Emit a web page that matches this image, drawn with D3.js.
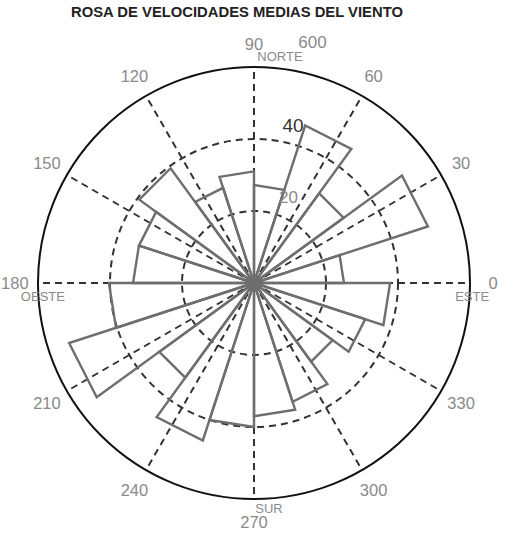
<!DOCTYPE html>
<html>
<head>
<meta charset="utf-8">
<script src="https://cdn.jsdelivr.net/npm/d3@7"></script>
<style>
body { margin: 0; background: #fff; }
svg { display: block; font-family: "Liberation Sans", Arial, sans-serif; }
</style>
</head>
<body>
<div id="container"></div>
<script>
// 20 bins of 18 degrees, counter-clockwise from east (MATLAB rose)
const binSpeeds = [25, 50.8, 30.8, 46, 27.2, 31, 27.8, 39.4, 33.6, 33.6,
                   40.3, 54, 32.5, 46, 40, 37, 34.7, 27, 32.5, 37.8];
const ringValues = [20, 40];
const ringLabels = ['20', '40', '600'];
const angleTicks = [0, 30, 60, 90, 120, 150, 180, 210, 240, 270, 300, 330];
const compassNames = ['ESTE', 'NORTE', 'OESTE', 'SUR'];
const compassAngles = [0, 90, 180, 270];
const maxSpeed = 60;
const title = 'ROSA DE VELOCIDADES MEDIAS DEL VIENTO';

const width = 524, height = 543;
const cx = 254, cy = 283, R = 216;

const svg = d3.select('#container').append('svg')
    .attr('width', width).attr('height', height);

const rScale = d3.scaleLinear().domain([0, maxSpeed]).range([0, R]);
const rad = d => d * Math.PI / 180;
// polar (math angle in degrees) -> screen
const px = (r, a) => cx + r * Math.cos(rad(a));
const py = (r, a) => cy - r * Math.sin(rad(a));

const g = svg.append('g').attr('transform', `translate(${cx},${cy})`);

// spokes
g.selectAll('line.spoke').data(angleTicks).join('line')
    .attr('class', 'spoke')
    .attr('x1', 0).attr('y1', 0)
    .attr('x2', d => rScale(maxSpeed) * Math.cos(rad(d)))
    .attr('y2', d => -rScale(maxSpeed) * Math.sin(rad(d)))
    .attr('stroke', '#333').attr('stroke-width', 2)
    .attr('stroke-dasharray', '7,5');

// dashed rings
g.selectAll('circle.ring').data(ringValues).join('circle')
    .attr('class', 'ring')
    .attr('r', d => rScale(d))
    .attr('fill', 'none')
    .attr('stroke', '#333').attr('stroke-width', 2)
    .attr('stroke-dasharray', '7,5');

// outer circle
g.append('circle')
    .attr('r', rScale(maxSpeed))
    .attr('fill', 'none')
    .attr('stroke', '#111').attr('stroke-width', 2);

// rose wedges
const binWidth = 360 / binSpeeds.length;
const radial = d3.lineRadial()
    .angle(d => rad(90 - d[0]))
    .radius(d => rScale(d[1]));

g.selectAll('path.bin').data(binSpeeds).join('path')
    .attr('class', 'bin')
    .attr('d', (v, i) => radial([[0, 0], [i * binWidth, v], [(i + 1) * binWidth, v], [0, 0]]))
    .attr('fill', 'none')
    .attr('stroke', '#6e6e6e').attr('stroke-width', 2.4)
    .attr('stroke-linejoin', 'miter');

// angle labels
const labelR = rScale(maxSpeed) * 1.107;
svg.selectAll('text.ang').data(angleTicks).join('text')
    .attr('class', 'ang')
    .attr('x', d => px(labelR, d))
    .attr('y', d => py(labelR, d))
    .attr('text-anchor', 'middle')
    .attr('dominant-baseline', 'central')
    .attr('font-size', 16.5)
    .attr('fill', '#8a8a8a')
    .text(d => d);

// compass names, tucked next to their angle labels
const compassOffset = { 0: [-21, 13], 90: [26, 13], 180: [28, 13], 270: [15, -14] };
svg.selectAll('text.compass').data(compassNames).join('text')
    .attr('class', 'compass')
    .attr('x', (d, i) => px(labelR, compassAngles[i]) + compassOffset[compassAngles[i]][0])
    .attr('y', (d, i) => py(labelR, compassAngles[i]) + compassOffset[compassAngles[i]][1])
    .attr('text-anchor', 'middle')
    .attr('dominant-baseline', 'central')
    .attr('font-size', 13)
    .attr('fill', '#8a8a8a')
    .text(d => d);

// ring labels
const ringLabelVals = [20, 40, maxSpeed];
const ringLabelOffset = [[22, -15], [14, -16], [21, -28]];
svg.selectAll('text.rlab').data(ringLabels).join('text')
    .attr('class', 'rlab')
    .attr('x', (d, i) => px(rScale(ringLabelVals[i]), 80) + ringLabelOffset[i][0])
    .attr('y', (d, i) => py(rScale(ringLabelVals[i]), 80) + ringLabelOffset[i][1])
    .attr('text-anchor', 'middle')
    .attr('dominant-baseline', 'central')
    .attr('font-size', (d, i) => i === 1 ? 19 : 17)
    .attr('fill', (d, i) => i === 1 ? '#333' : '#8a8a8a')
    .text(d => d);

// title
svg.append('text')
    .attr('x', 237).attr('y', 17)
    .attr('text-anchor', 'middle')
    .attr('font-size', 14.8)
    .attr('font-weight', 'bold')
    .attr('fill', '#222')
    .text(title);
</script>
</body>
</html>
